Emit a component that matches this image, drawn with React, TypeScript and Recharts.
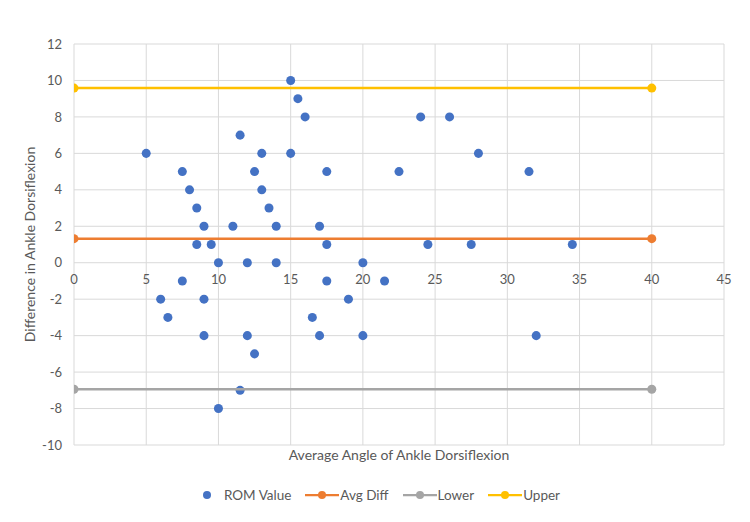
import React from 'react';
import { ScatterChart, Scatter, XAxis, YAxis, CartesianGrid, Legend } from 'recharts';

const romX = [5, 7.5, 8, 8.5, 9, 8.5, 9.5, 11, 11.5, 13, 12.5, 13, 13.5, 14, 15, 15.5, 16, 15, 17.5, 17, 17.5,
  10, 12, 14, 20, 7.5, 17.5, 21.5, 6, 9, 19, 6.5, 16.5, 9, 12, 17, 20, 12.5, 11.5, 10,
  24, 26, 28, 22.5, 31.5, 24.5, 27.5, 34.5, 32];
const romY = [6, 5, 4, 3, 2, 1, 1, 2, 7, 6, 5, 4, 3, 2, 10, 9, 8, 6, 5, 2, 1,
  0, 0, 0, 0, -1, -1, -1, -2, -2, -2, -3, -3, -4, -4, -4, -4, -5, -7, -8,
  8, 8, 6, 5, 5, 1, 1, 1, -4];

const lineX = [0, 40];
const avgDiffValue = 1.32;
const upperValue = 9.58;
const lowerValue = -6.94;

const seriesNames = ['ROM Value', 'Avg Diff', 'Lower', 'Upper'];
const xTicks = [0, 5, 10, 15, 20, 25, 30, 35, 40, 45];
const yTicks = [-10, -8, -6, -4, -2, 0, 2, 4, 6, 8, 10, 12];

const romData = romX.map((x, i) => ({ x, y: romY[i] }));
const avgData = lineX.map((x) => ({ x, y: avgDiffValue }));
const lowerData = lineX.map((x) => ({ x, y: lowerValue }));
const upperData = lineX.map((x) => ({ x, y: upperValue }));

const W = 750;
const H = 522;
const MT = 44;
const MB = 76;
const XAXIS_H = 1;
const ML = 14;
const YAXIS_W = 60;
const MR = 26;
const PLOT_H = H - MT - MB - XAXIS_H;
const Y_MIN = -10;
const Y_MAX = 12;
const ZERO_Y = MT + (PLOT_H * (Y_MAX - 0)) / (Y_MAX - Y_MIN);

const FONT = 'Lato, "Open Sans", sans-serif';
const TEXT = '#595959';
const GRID = '#D9D9D9';

const BLUE = '#4472C4';
const ORANGE = '#ED7D31';
const GRAY = '#A5A5A5';
const YELLOW = '#FFC000';

const XTick = (props: any) => {
  const { x, payload } = props;
  return (
    <text x={x} y={ZERO_Y + 18} textAnchor="middle" dominantBaseline="middle" fill={TEXT} fontSize={13} fontFamily={FONT}>
      {payload.value}
    </text>
  );
};

const LegendContent = (props: any) => {
  const payload = [...(props.payload || [])].sort(
    (a: any, b: any) => seriesNames.indexOf(a.value) - seriesNames.indexOf(b.value)
  );
  return (
    <div style={{ display: 'flex', justifyContent: 'center', alignItems: 'center', fontFamily: FONT, fontSize: 13.5, color: TEXT, paddingLeft: 12 }}>
      {payload.map((entry: any, i: number) => {
        const isLine = entry.value !== seriesNames[0];
        return (
          <div key={i} style={{ display: 'flex', alignItems: 'center', marginRight: i < payload.length - 1 ? 14 : 0 }}>
            {isLine ? (
              <svg width={34} height={10} style={{ marginRight: 1 }}>
                <line x1={0} y1={5} x2={34} y2={5} stroke={entry.color} strokeWidth={2.25} />
                <circle cx={17} cy={5} r={4} fill={entry.color} />
              </svg>
            ) : (
              <svg width={10} height={10} style={{ marginRight: 12 }}>
                <circle cx={5} cy={5} r={4} fill={entry.color} />
              </svg>
            )}
            <span>{entry.value}</span>
          </div>
        );
      })}
    </div>
  );
};

export default function App() {
  return (
    <div style={{ position: 'absolute', left: 0, top: 0, width: W, height: H, background: '#fff' }}>
      <ScatterChart width={W} height={H} margin={{ top: MT, right: MR, bottom: MB, left: ML }}>
        <CartesianGrid stroke={GRID} strokeWidth={1} />
        <XAxis
          type="number"
          dataKey="x"
          domain={[0, 45]}
          ticks={xTicks}
          interval={0}
          height={XAXIS_H}
          axisLine={false}
          tickLine={false}
          tick={<XTick />}
          allowDataOverflow
          label={{ value: 'Average Angle of Ankle Dorsiflexion', position: 'bottom', offset: 4, fill: TEXT, fontSize: 14, fontFamily: FONT }}
        />
        <YAxis
          type="number"
          dataKey="y"
          domain={[Y_MIN, Y_MAX]}
          ticks={yTicks}
          interval={0}
          width={YAXIS_W}
          axisLine={false}
          tickLine={false}
          tickSize={0}
          tickMargin={12}
          tick={{ fill: TEXT, fontSize: 13, fontFamily: FONT }}
          allowDataOverflow
          label={{ value: 'Difference in Ankle Dorsiflexion', angle: -90, position: 'insideLeft', offset: 16, fill: TEXT, fontSize: 14, fontFamily: FONT, style: { textAnchor: 'middle' } }}
        />
        <Scatter name={seriesNames[0]} data={romData} fill={BLUE} isAnimationActive={false} />
        <Scatter name={seriesNames[1]} data={avgData} fill={ORANGE} line={{ stroke: ORANGE, strokeWidth: 2.5 }} isAnimationActive={false} />
        <Scatter name={seriesNames[2]} data={lowerData} fill={GRAY} line={{ stroke: GRAY, strokeWidth: 2.5 }} isAnimationActive={false} />
        <Scatter name={seriesNames[3]} data={upperData} fill={YELLOW} line={{ stroke: YELLOW, strokeWidth: 2.5 }} isAnimationActive={false} />
        <Legend
          layout="horizontal"
          verticalAlign="middle"
          align="center"
          content={<LegendContent />}
          wrapperStyle={{ top: 487, left: 0, width: W, height: 20 }}
        />
      </ScatterChart>
    </div>
  );
}
